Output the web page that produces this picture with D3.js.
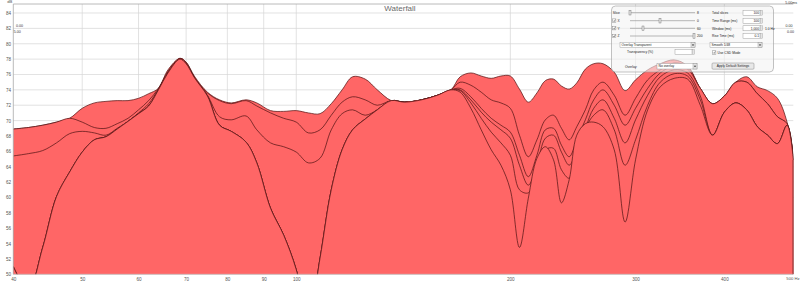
<!DOCTYPE html>
<html><head><meta charset="utf-8">
<script src="https://cdn.jsdelivr.net/npm/d3@7"></script>
<style>html,body{margin:0;padding:0;background:#fff;overflow:hidden}</style>
</head><body><svg id="c" width="800" height="282"></svg>
<script>
// ---------- DATA ----------
const freqs = [40,42,44,46,48,50,52,54,56,58,60,62,64,66,68.6,70,72,75,78,81,85,88,92,96,100,104,108,112,116,120,125,130,136,142,150,158,165,170,176,182,188,194,200,206,212,218,224,230,236,242,248,255,262,270,280,290,300,312,325,340,355,370,385,400,415,430,445,460,475,490,500];
// slice levels in dB, slice0 = first (back) slice, slice5 = last (front)
const slice0 = [68.9,69.1,69.4,69.8,70.3,71.6,72.3,72.5,72.6,72.6,72.9,73.5,74.2,76.6,78.1,77.6,75.7,73.7,72.7,72.3,72.7,72.3,71.3,71.2,71.3,71.0,70.9,72.2,74.0,75.7,75.4,74.0,72.6,72.4,72.7,73.3,74.0,75.7,76.2,75.8,75.5,75.8,75.8,74.1,72.4,73.6,75.2,75.4,74.5,74.1,74.9,76.7,77.4,77.4,76.3,73.9,75.3,76.6,77.4,77.9,77.1,74.2,72.2,73.2,75.0,75.7,74.4,73.9,72.9,69.8,64.9];
const slice1 = [68.9,69.1,69.4,69.8,70.3,69.8,69.1,69.0,69.6,70.3,71.4,72.6,74.2,76.4,78.1,77.6,75.5,73.6,72.6,72.2,72.6,71.9,71.0,70.3,69.8,68.4,68.8,70.7,72.4,73.1,72.7,72.0,72.6,72.4,72.7,73.3,74.0,75.0,74.6,73.7,72.7,72.3,71.6,68.1,65.3,67.5,70.1,70.7,69.0,67.5,69.2,71.4,74.0,75.0,73.3,70.7,72.9,75.3,76.6,77.5,77.0,74.2,72.2,73.2,75.0,75.0,73.5,72.2,70.5,69.6,64.9];
const slice2 = [65.4,65.7,66.1,67.1,68.3,68.6,68.4,68.1,69.0,69.9,71.0,72.2,74.1,76.3,78.1,77.5,75.5,73.3,70.5,70.1,70.6,68.8,67.1,66.6,65.9,64.5,65.1,68.8,70.9,71.4,70.7,71.4,72.6,72.4,72.7,73.3,74.0,74.2,73.1,71.6,70.3,69.4,68.5,65.5,62.7,65.5,68.8,69.0,66.8,65.3,67.5,70.1,72.7,74.0,72.0,69.4,71.6,74.2,76.2,77.1,76.7,74.2,72.2,73.2,75.0,75.0,73.5,72.2,70.5,69.6,64.9];
const slice3 = [51.0,48.0,53.5,60.1,63.3,65.9,67.5,67.9,68.9,69.9,70.9,71.9,74.0,76.2,78.0,77.4,75.5,73.2,69.4,68.6,67.2,64.5,58.6,55.1,50.6,44.0,52.1,61.0,66.2,68.8,70.2,71.4,72.6,72.4,72.7,73.3,74.0,74.0,72.7,71.1,69.8,68.8,67.7,64.2,61.6,64.2,67.7,68.1,65.9,64.2,66.2,69.0,71.6,72.7,70.3,67.1,70.1,73.3,75.7,76.6,76.2,73.2,68.1,71.1,72.3,71.4,69.2,68.1,67.0,69.4,64.9];
const slice4 = [51.0,48.0,53.5,60.1,63.3,65.9,67.5,67.9,68.9,69.9,70.9,71.9,74.0,76.2,78.0,77.4,75.5,73.2,69.4,68.6,67.2,64.5,58.6,55.1,50.6,44.0,52.1,61.0,66.2,68.8,70.2,71.4,72.6,72.4,72.7,73.3,74.0,73.9,72.3,70.3,68.5,67.1,65.5,61.0,60.6,63.3,66.2,66.4,63.6,62.5,66.2,69.0,70.7,71.4,68.8,64.2,67.5,72.0,75.0,76.1,75.8,72.7,68.1,71.1,72.3,71.4,69.2,68.1,67.0,69.4,64.9];
const slice5 = [51.0,48.0,53.5,60.1,63.3,65.9,67.5,67.9,68.9,69.9,70.9,71.9,74.0,76.2,78.0,77.4,75.5,73.2,69.4,68.6,67.2,64.5,58.6,55.1,50.6,44.0,52.1,61.0,66.2,68.8,70.2,71.4,72.6,72.4,72.7,73.3,74.0,73.7,71.6,68.8,66.2,64.2,61.0,53.5,59.9,65.1,66.6,64.9,59.3,62.3,68.1,69.6,69.8,69.2,66.2,56.8,64.9,71.4,74.4,75.5,75.4,72.0,68.1,71.1,72.3,71.4,69.2,68.1,67.0,69.4,64.9];
const dbTicks = [50,52,54,56,58,60,62,64,66,68,70,72,74,76,78,80,82,84];
const freqTicks = [40,50,60,70,80,90,100,200,300,400,500];
const freqTickLabels = ["40","50","60","70","80","90","100","200","300","400","500 Hz"];

// ---------- LAYOUT ----------
const F = "'Liberation Sans', Arial, sans-serif";
const PL=13.3, PR=793.3, PT=4, PB=274.3;
const svg = d3.select("#c");
const x = d3.scaleLog().domain([40,500]).range([PL,PR]);
const y = d3.scaleLinear().domain([50, 50+(PB-PT)/7.685]).range([PB,PT]);

svg.append("rect").attr("width",800).attr("height",282).attr("fill","#fff");

// grid
svg.append("g").selectAll("line").data(dbTicks).join("line")
  .attr("x1",PL).attr("x2",PR).attr("y1",d=>y(d)).attr("y2",d=>y(d))
  .attr("stroke","#d6d6d6").attr("stroke-width",0.7);
svg.append("g").selectAll("line").data(freqTicks.slice(1,-1)).join("line")
  .attr("x1",d=>x(d)).attr("x2",d=>x(d)).attr("y1",PT).attr("y2",PB)
  .attr("stroke","#d6d6d6").attr("stroke-width",0.7);

// slices
svg.append("clipPath").attr("id","clip").append("rect")
  .attr("x",PL).attr("y",PT).attr("width",PR-PL).attr("height",PB-PT);
const curve = d3.curveCatmullRom.alpha(0.5);
const area = d3.area().x((d,i)=>x(freqs[i])).y0(PB).y1(d=>y(d)).curve(curve);
const line = d3.line().x((d,i)=>x(freqs[i])).y(d=>y(d)).curve(curve);
const sg = svg.append("g").attr("clip-path","url(#clip)");
[slice0,slice1,slice2,slice3,slice4,slice5].forEach(s=>{
  sg.append("path").datum(s).attr("d",area).attr("fill","#ff6666");
  sg.append("path").datum(s).attr("d",line).attr("fill","none")
    .attr("stroke","#5a1818").attr("stroke-width",0.75);
  sg.append("line").attr("x1",x(500)-0.3).attr("x2",x(500)-0.3)
    .attr("y1",y(s[s.length-1])).attr("y2",PB).attr("stroke","#5a1818").attr("stroke-width",0.75);
});

// frame
svg.append("line").attr("x1",PL).attr("x2",PR).attr("y1",PT).attr("y2",PT).attr("stroke","#a8a8a8").attr("stroke-width",0.8);
svg.append("line").attr("x1",PL).attr("x2",PL).attr("y1",PT).attr("y2",PB).attr("stroke","#a8a8a8").attr("stroke-width",0.8);
svg.append("line").attr("x1",PL).attr("x2",PR).attr("y1",PB).attr("y2",PB).attr("stroke","#c8c8c8").attr("stroke-width",0.8);

// axes
const ay = svg.append("g").attr("transform",`translate(${PL-1},0)`)
  .call(d3.axisLeft(y).tickValues(dbTicks).tickSize(0).tickPadding(1.2));
const ax = svg.append("g").attr("transform",`translate(0,${PB+1})`)
  .call(d3.axisBottom(x).tickValues(freqTicks).tickSize(0).tickPadding(2.2)
    .tickFormat((d,i)=>freqTickLabels[i]));
[ay,ax].forEach(a=>{a.select(".domain").remove();
  a.selectAll("text").attr("font-family",F).attr("font-size",4.6).attr("fill","#555");});
ax.selectAll(".tick").filter(d=>d===500).select("text")
  .attr("text-anchor","end").attr("dx",5.8).attr("font-size",4.2);

svg.append("text").attr("x",PL-1).attr("y",3.2).attr("text-anchor","end")
  .attr("font-family",F).attr("font-size",4.2).attr("fill","#555").text("dB");
svg.append("text").attr("x",400).attr("y",11.2).attr("text-anchor","middle")
  .attr("font-family",F).attr("font-size",8).attr("fill","#6a6a6a").text("Waterfall");

// time labels
const tl = svg.append("g").attr("font-family",F).attr("font-size",3.6).attr("fill","#333");
[[16,26.8,"0.00","start"],[13.8,32.8,"5.00","start"],[792.5,26.8,"0.00","end"],[794,32.8,"0.00","end"],[797,4.2,"5.00ms","end"]]
  .forEach(t=>tl.append("text").attr("x",t[0]).attr("y",t[1]).attr("text-anchor",t[3]).text(t[2]));

// control panel
const P = svg.append("g").attr("font-family",F).attr("font-size",3.3).attr("fill","#222");
P.append("rect").attr("x",611.5).attr("y",6).attr("width",162).attr("height",66).attr("rx",4)
  .attr("fill","#f4f4f4").attr("fill-opacity",0.6).attr("stroke","#9a9a9a").attr("stroke-width",0.6);
const leftRows = [["Slice",false,630,"8",12.7],["X",true,660,"0",20.7],["Y",true,643,"60",28.3],["Z",true,694,"200",36]];
leftRows.forEach(r=>{
  const cy=r[4];
  if(r[1]){
    P.append("rect").attr("x",612.5).attr("y",cy-1.8).attr("width",3.4).attr("height",3.4).attr("fill","#fff").attr("stroke","#777").attr("stroke-width",0.4);
    P.append("path").attr("d",`M613.2,${cy} L614.1,${cy+1} L615.3,${cy-1.1}`).attr("fill","none").attr("stroke","#333").attr("stroke-width",0.5);
    P.append("text").attr("x",617.5).attr("y",cy+1.2).text(r[0]);
  } else P.append("text").attr("x",612.8).attr("y",cy+1.2).text(r[0]);
  P.append("line").attr("x1",630).attr("x2",695).attr("y1",cy).attr("y2",cy).attr("stroke","#999").attr("stroke-width",0.7);
  P.append("rect").attr("x",r[2]-1).attr("y",cy-2.3).attr("width",2).attr("height",4.6).attr("fill","#e6e6e6").attr("stroke","#666").attr("stroke-width",0.4);
  P.append("text").attr("x",697).attr("y",cy+1.2).text(r[3]);
});
function dropdown(x0,y0,w,h,label){
  P.append("rect").attr("x",x0).attr("y",y0).attr("width",w).attr("height",h).attr("fill","#fff").attr("stroke","#8a8a8a").attr("stroke-width",0.4);
  P.append("rect").attr("x",x0+w-4).attr("y",y0).attr("width",4).attr("height",h).attr("fill","#e4e4e4").attr("stroke","#8a8a8a").attr("stroke-width",0.4);
  P.append("path").attr("d",`M${x0+w-3.1},${y0+h/2-0.6} L${x0+w-0.9},${y0+h/2-0.6} L${x0+w-2},${y0+h/2+0.9}Z`).attr("fill","#222");
  P.append("text").attr("x",x0+1.5).attr("y",y0+h/2+1.2).text(label);
}
function field(x0,cy,val){
  P.append("rect").attr("x",x0).attr("y",cy-2.5).attr("width",17).attr("height",5).attr("fill","#fff").attr("stroke","#8a8a8a").attr("stroke-width",0.4);
  P.append("text").attr("x",x0+16).attr("y",cy+1.2).attr("text-anchor","end").text(val);
  P.append("rect").attr("x",x0+17.2).attr("y",cy-2.5).attr("width",2.6).attr("height",5).attr("fill","#e4e4e4").attr("stroke","#8a8a8a").attr("stroke-width",0.3);
}
dropdown(620,42.5,75,5,"Overlay Transparent");
P.append("text").attr("x",627).attr("y",53).text("Transparency (%)");
field(675,52,"");
P.append("text").attr("x",625).attr("y",67.5).text("Overlay:");
dropdown(657,63.5,40,5.5,"No overlay");
const rightRows = [["Total slices","100",12.7],["Time Range (ms)","100",20.7],["Window (ms)","1,000",28.3],["Rise Time (ms)","0.1",36]];
rightRows.forEach(r=>{
  P.append("text").attr("x",712).attr("y",r[2]+1.2).text(r[0]);
  field(743,r[2],r[1]);
});
P.append("text").attr("x",765).attr("y",29.5).text("1.0 Hz");
dropdown(710,42.5,52,5,"Smooth 1/48");
P.append("rect").attr("x",712.5).attr("y",50.8).attr("width",3.4).attr("height",3.4).attr("fill","#fff").attr("stroke","#777").attr("stroke-width",0.4);
P.append("path").attr("d","M713.2,52.5 L714.1,53.5 L715.3,51.4").attr("fill","none").attr("stroke","#333").attr("stroke-width",0.5);
P.append("text").attr("x",717.5).attr("y",53.7).text("Use CSD Mode");
P.append("rect").attr("x",712).attr("y",63).attr("width",42).attr("height",6.2).attr("rx",1).attr("fill","#e8e8e8").attr("stroke","#888").attr("stroke-width",0.5);
P.append("text").attr("x",733).attr("y",67.3).attr("text-anchor","middle").text("Apply Default Settings");
</script></body></html>
